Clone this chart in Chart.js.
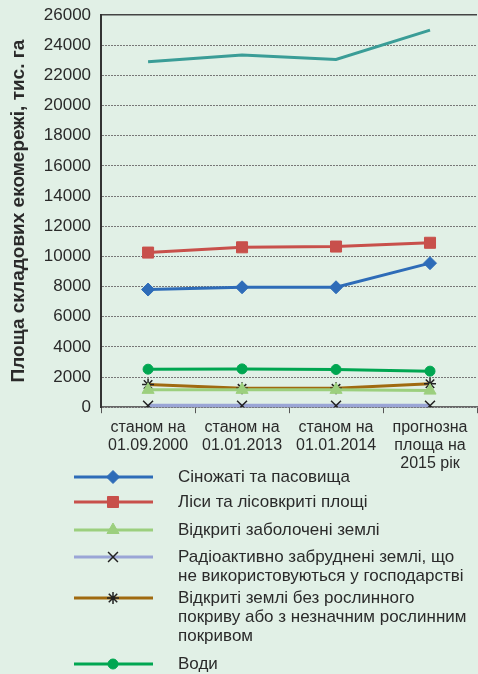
<!DOCTYPE html>
<html>
<head>
<meta charset="utf-8">
<script src="https://cdn.jsdelivr.net/npm/chart.js@4.4.1/dist/chart.umd.min.js"></script>
<style>
    html, body { margin: 0; padding: 0; background: #e1f0e6; overflow: hidden; }
    canvas { display: block; }
</style>
</head>
<body>
<canvas id="ecoChart" width="478" height="674"></canvas>
<script>
// Періоди (підписи осі X)
const periodLabels = [
    ['станом на', '01.09.2000'],
    ['станом на', '01.01.2013'],
    ['станом на', '01.01.2014'],
    ['прогнозна', 'площа на', '2015 рік']
];

// Площі, тис. га
const hayfields   = [7800, 7950, 7950, 9550];     // Сіножаті та пасовища
const forests     = [10250, 10600, 10650, 10900]; // Ліси та лісовкриті площі
const wetlands    = [1150, 1150, 1150, 1100];     // Відкриті заболочені землі
const radioactive = [100, 100, 100, 100];         // Радіоактивно забруднені землі
const bareLands   = [1500, 1250, 1250, 1550];     // Відкриті землі без рослинного покриву
const waters      = [2520, 2540, 2500, 2390];     // Води
const totalNet    = [22900, 23350, 23050, 25000]; // загальна площа (без легенди)

// Підписи легенди по рядках
const nameHay    = ['Сіножаті та пасовища'];
const nameForest = ['Ліси та лісовкриті площі'];
const nameWet    = ['Відкриті заболочені землі'];
const nameRadio  = ['Радіоактивно забруднені землі, що', 'не використовуються у господарстві'];
const nameBare   = ['Відкриті землі без рослинного', 'покриву або з незначним рослинним', 'покривом'];
const nameWater  = ['Води'];

const Y_MAX = 26000;
const Y_STEP = 2000;

const FONT = '"Liberation Sans", Arial, Helvetica, sans-serif';
const TEXT = '#2a2a2a';

function series(label, data, color, style, radius, extra) {
    return Object.assign({
        label: label.join(' '),
        legendLines: label,
        data: data,
        borderColor: color,
        backgroundColor: color,
        borderWidth: 3,
        pointStyle: style,
        pointRadius: radius,
        pointBackgroundColor: color,
        pointBorderColor: color,
        pointBorderWidth: 1,
        tension: 0
    }, extra || {});
}

// легенда стовпчиком під графіком
const legendRowY = [477, 502, 530, 557, 598, 664];
const stackedLegend = {
    id: 'stackedLegend',
    afterDraw(chart) {
        const ctx = chart.ctx;
        let row = 0;
        chart.data.datasets.forEach(ds => {
            if (!ds.legendLines) return;
            const y = legendRowY[row++];
            ctx.save();
            ctx.strokeStyle = ds.borderColor;
            ctx.lineWidth = 3;
            ctx.beginPath();
            ctx.moveTo(74, y);
            ctx.lineTo(153, y);
            ctx.stroke();

            ctx.fillStyle = ds.pointBackgroundColor;
            ctx.strokeStyle = ds.pointBorderColor;
            ctx.lineWidth = ds.pointBorderWidth;
            Chart.helpers.drawPoint(ctx, {
                pointStyle: ds.pointStyle,
                radius: ds.pointRadius,
                rotation: 0,
                borderWidth: ds.pointBorderWidth
            }, 113, y);

            ctx.fillStyle = TEXT;
            ctx.font = '17px ' + FONT;
            ctx.textBaseline = 'middle';
            ds.legendLines.forEach((t, i) => ctx.fillText(t, 178, y + i * 19));
            ctx.restore();
        });
    }
};

new Chart(document.getElementById('ecoChart'), {
    type: 'line',
    data: {
        labels: periodLabels,
        datasets: [
            {
                label: '',
                data: totalNet,
                borderColor: '#3a9d97',
                borderWidth: 3,
                pointRadius: 0,
                tension: 0
            },
            series(nameHay, hayfields, '#2e6cb8', 'rectRot', 6.5),
            series(nameForest, forests, '#c8504b', 'rect', 7.8),
            series(nameWet, wetlands, '#9ccf7e', 'triangle', 7),
            series(nameRadio, radioactive, '#9aa5d6', 'crossRot', 7,
                { pointBorderColor: '#222', pointBorderWidth: 1.5, borderWidth: 4 }),
            series(nameBare, bareLands, '#a06a10', 'star', 6,
                { pointBorderColor: '#222', pointBorderWidth: 1.5 }),
            series(nameWater, waters, '#00a651', 'circle', 5)
        ]
    },
    options: {
        responsive: false,
        animation: false,
        layout: { autoPadding: false, padding: { top: 15, right: 1, left: 7, bottom: 196 } },
        plugins: {
            legend: { display: false },
            tooltip: { enabled: false }
        },
        scales: {
            x: {
                offset: true,
                afterFit: s => { s.paddingLeft = 0; s.paddingRight = 0; },
                grid: {
                    drawOnChartArea: false,
                    drawTicks: true,
                    tickLength: 6,
                    offset: true,
                    color: '#555'
                },
                border: { display: true, color: '#666', width: 1.5 },
                ticks: {
                    color: TEXT,
                    padding: 6,
                    maxRotation: 0,
                    autoSkip: false,
                    font: { family: FONT, size: 16, lineHeight: 1.1 }
                }
            },
            y: {
                min: 0,
                max: Y_MAX,
                afterFit: s => { s.paddingTop = 0; s.paddingBottom = 0; },
                grid: {
                    drawTicks: false,
                    color: ctx => ctx.tick && ctx.tick.value === Y_MAX ? '#444' : '#777',
                    lineWidth: ctx => ctx.tick && ctx.tick.value === Y_MAX ? 1.5 : 1
                },
                border: {
                    display: true,
                    color: '#333',
                    width: 2,
                    dash: ctx => ctx.tick && ctx.tick.value === Y_MAX ? [] : [2, 1]
                },
                ticks: {
                    stepSize: Y_STEP,
                    padding: 10,
                    color: TEXT,
                    font: { family: FONT, size: 17 },
                    callback: v => String(v)
                },
                title: {
                    display: true,
                    text: 'Площа складових екомережі, тис. га',
                    color: TEXT,
                    padding: { top: 0, bottom: 4 },
                    font: { family: FONT, size: 19, weight: 'bold' }
                }
            }
        }
    },
    plugins: [stackedLegend]
});
</script>
</body>
</html>
